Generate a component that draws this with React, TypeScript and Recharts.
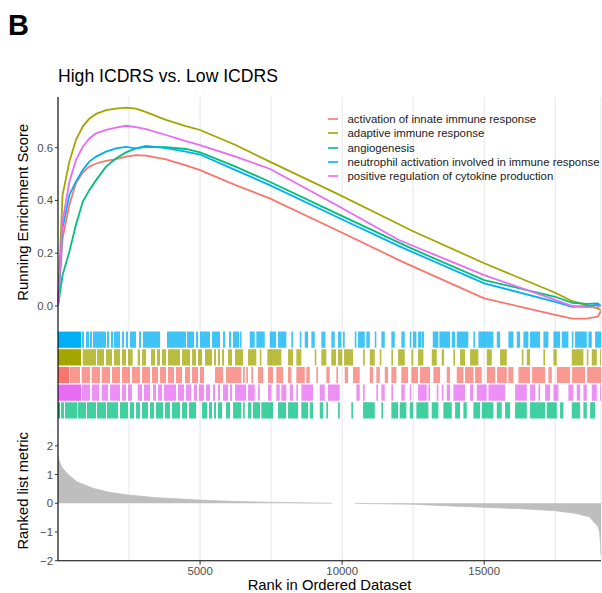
import { LineChart, Line, XAxis, YAxis, CartesianGrid, Legend, ComposedChart, Area } from "recharts";

const FONT = "'Liberation Sans', Arial, sans-serif";
const N_GENES = 19110;
const GRID_TICKS = [2500, 5000, 7500, 10000, 12500, 15000, 17500];
const MAJOR_TICKS = [5000, 10000, 15000];
const ES_TICKS = [0, 0.2, 0.4, 0.6];
const METRIC_TICKS = [-2, -1, 0, 1, 2];

// running enrichment score
const RANKS = [0, 160, 400, 630, 870, 1100, 1340, 1690, 2040, 2390, 2740, 3100, 3800, 4500, 5000, 6250, 7450, 9800, 12000, 12400, 15000, 17500, 18100, 18600, 19000, 19100];
const ES_INNATE = [0, 0.256, 0.383, 0.465, 0.506, 0.528, 0.54, 0.55, 0.557, 0.566, 0.572, 0.57, 0.556, 0.533, 0.515, 0.458, 0.408, 0.288, 0.174, 0.154, 0.029, -0.034, -0.048, -0.048, -0.04, -0.02];
const ES_ADAPTIVE = [0, 0.42, 0.547, 0.629, 0.68, 0.71, 0.728, 0.742, 0.748, 0.752, 0.748, 0.735, 0.705, 0.682, 0.667, 0.61, 0.547, 0.427, 0.31, 0.288, 0.162, 0.05, 0.018, 0.004, -0.01, -0.015];
const ES_ANGIO = [0, 0.117, 0.206, 0.307, 0.395, 0.439, 0.477, 0.528, 0.559, 0.582, 0.597, 0.603, 0.602, 0.595, 0.582, 0.528, 0.471, 0.351, 0.24, 0.22, 0.098, 0.035, 0.012, 0.008, 0.01, 0];
const ES_NEUTRO = [0, 0.294, 0.42, 0.471, 0.515, 0.547, 0.566, 0.585, 0.597, 0.603, 0.597, 0.607, 0.598, 0.585, 0.574, 0.515, 0.458, 0.338, 0.227, 0.208, 0.086, 0.016, -0.003, 0, 0.004, 0];
const ES_CYTOKINE = [0, 0.32, 0.47, 0.553, 0.603, 0.635, 0.654, 0.667, 0.676, 0.683, 0.678, 0.67, 0.648, 0.625, 0.61, 0.566, 0.52, 0.383, 0.25, 0.232, 0.117, 0.023, 0, -0.004, -0.005, 0.004];

// gene hit positions (rank ranges) for the rug
const HITS_NEUTRO: [number, number][] = [
  [0, 810], [845, 915], [986, 1091], [1126, 1197], [1232, 1690], [1725, 1795], [1866, 1936], [1971, 2182], [2253, 2323], [2394, 2464],
  [2534, 2746], [2851, 2922], [2992, 3590], [3837, 4506], [4541, 4787], [4858, 4928], [4998, 5350], [5421, 5702], [5808, 5878], [6019, 6090],
  [6160, 6371], [6406, 6459], [6748, 6924], [6980, 7276], [7452, 7674], [7744, 8036], [8212, 8272], [8508, 8564], [8684, 8800], [8916, 9036],
  [9268, 9409], [9620, 9740], [9856, 9972], [10032, 10092], [10444, 10500], [10560, 10796], [10852, 10972], [11148, 11204], [11380, 11500], [11732, 11852],
  [12084, 12204], [12380, 12436], [12496, 12612], [12672, 12788], [12802, 12883], [13190, 13387], [13422, 13798], [13858, 13974], [14034, 14442], [14619, 14678],
  [14795, 15323], [15442, 15558], [15851, 16027], [16146, 16262], [16379, 16555], [16614, 16966], [17083, 17259], [17435, 17670], [17730, 17963], [18082, 18139],
  [18198, 18610], [18666, 18786], [18902, 19110],
];
const HITS_ADAPTIVE: [number, number][] = [
  [0, 810], [869, 1338], [1373, 1619], [1690, 1901], [1971, 2182], [2253, 2394], [2464, 2629], [2805, 2886], [2957, 3098], [3274, 3414],
  [3485, 3590], [3661, 3802], [3872, 4294], [4365, 4646], [4717, 4858], [4928, 5069], [5174, 5421], [5491, 5562], [5632, 5702], [5773, 5843],
  [5984, 6125], [6230, 6512], [6688, 6980], [7100, 7156], [7367, 7860], [8096, 8272], [8388, 8564], [9036, 9092], [9268, 9444], [9620, 9786],
  [9856, 9997], [10067, 10384], [10736, 10796], [10972, 11148], [11324, 11380], [11732, 11792], [11968, 12204], [12436, 12496], [12672, 12859], [13154, 13330],
  [13506, 13587], [13915, 13974], [14150, 14326], [14502, 14795], [15090, 15266], [15558, 15794], [16322, 16379], [16498, 16614], [17083, 17142], [17435, 17554],
  [18082, 18491], [18610, 18666], [18786, 18962], [19078, 19110],
];
const HITS_INNATE: [number, number][] = [
  [0, 398], [422, 774], [834, 1126], [1186, 1478], [1538, 1830], [1901, 2182], [2253, 2534], [2605, 2886], [2957, 3238], [3309, 3520],
  [3590, 3802], [3872, 4083], [4154, 4365], [4470, 4646], [4717, 4928], [4998, 5139], [5526, 5808], [5914, 6452], [6512, 6572], [6628, 6688],
  [6804, 6864], [7040, 7216], [7392, 7568], [7684, 7920], [8096, 8212], [8388, 8684], [8740, 8860], [9092, 9152], [9444, 9564], [9796, 9856],
  [10092, 10208], [10384, 10620], [10972, 11088], [11204, 11324], [11500, 11616], [11732, 11908], [12084, 12320], [12436, 12672], [12742, 13094], [13211, 13446],
  [13682, 13798], [14034, 14267], [14326, 14619], [14678, 14914], [15090, 15382], [15453, 15794], [15851, 16027], [16203, 16614], [16685, 17142], [17259, 17378],
  [17554, 18022], [18093, 18550], [18621, 19110],
];
const HITS_CYTOKINE: [number, number][] = [
  [0, 810], [845, 1126], [1197, 1443], [1538, 1760], [1830, 2182], [2253, 2394], [2464, 2605], [2805, 2957], [3027, 3238], [3344, 3450],
  [3520, 3661], [3731, 4154], [4224, 4435], [4506, 4682], [4787, 4893], [4963, 5139], [5210, 5350], [5456, 5526], [5632, 5702], [5808, 5984],
  [6054, 6125], [6230, 6618], [6688, 6924], [7040, 7100], [7392, 7508], [7684, 7804], [7860, 8036], [8156, 8272], [8388, 8448], [8564, 8976],
  [9212, 9388], [9504, 9916], [10500, 10620], [10736, 10796], [11204, 11264], [11380, 11500], [11732, 11792], [12084, 12204], [12380, 12436], [12672, 12978],
  [13035, 13094], [13330, 13387], [13506, 13563], [13682, 13798], [13915, 14326], [14502, 14619], [14738, 15090], [15147, 15734], [16086, 16498], [16614, 16790],
  [16907, 16966], [17142, 17318], [17435, 17610], [17963, 18139], [18258, 18374], [18491, 18610], [18786, 18962], [19078, 19110],
];
const HITS_ANGIO: [number, number][] = [
  [0, 70], [106, 211], [246, 669], [704, 986], [1021, 1338], [1373, 1690], [1725, 2112], [2182, 2464], [2534, 2675], [2746, 2886],
  [2957, 3168], [3238, 3379], [3450, 3696], [3766, 3942], [4013, 4294], [4365, 4541], [4611, 4858], [5069, 5245], [5315, 5421], [5491, 5562],
  [5632, 5773], [5914, 6054], [6160, 6452], [6512, 6572], [6688, 6804], [6864, 7110], [7156, 7568], [7744, 8026], [8096, 8448], [8564, 8800],
  [8860, 8976], [9212, 9328], [9444, 9504], [9856, 9916], [10324, 10384], [10736, 11148], [11380, 11440], [11732, 11968], [12028, 12260], [12380, 12496],
  [12612, 13035], [13154, 13387], [13563, 13858], [13974, 14150], [14267, 14386], [14619, 14854], [14914, 15323], [15442, 15618], [15734, 15910], [16086, 16498],
  [16614, 17142], [17202, 17554], [17670, 17787], [18082, 18374], [18491, 18610], [18726, 18902],
];

// ranked list metric
const METRIC_RANKS = [0, 50, 130, 300, 660, 1240, 1800, 2460, 3500, 5000, 6200, 7460, 9000, 9650, 10000, 10450, 12500, 14000, 15000, 16500, 17500, 18200, 18700, 19000, 19060, 19100, 19110];
const METRIC_VALUES = [1.65, 1.45, 1.27, 1.05, 0.75, 0.52, 0.38, 0.29, 0.19, 0.11, 0.065, 0.035, 0.01, 0.002, null, -0.002, -0.035, -0.1, -0.14, -0.2, -0.26, -0.35, -0.47, -0.8, -1.0, -1.5, -1.8];

const SETS = [
  { key: "innate", name: "activation of innate immune response", color: "#F8766D", es: ES_INNATE, hits: HITS_INNATE, row: 2 },
  { key: "adaptive", name: "adaptive immune response", color: "#A3A500", es: ES_ADAPTIVE, hits: HITS_ADAPTIVE, row: 3 },
  { key: "angio", name: "angiogenesis", color: "#00BF7D", es: ES_ANGIO, hits: HITS_ANGIO, row: 0 },
  { key: "neutro", name: "neutrophil activation involved in immune response", color: "#00B0F6", es: ES_NEUTRO, hits: HITS_NEUTRO, row: 4 },
  { key: "cytokine", name: "positive regulation of cytokine production", color: "#E76BF3", es: ES_CYTOKINE, hits: HITS_CYTOKINE, row: 1 },
];

const esData = RANKS.map((rank, i) => {
  const d: Record<string, number> = { rank };
  SETS.forEach((s) => (d[s.key] = s.es[i]));
  return d;
});

// rug table: every hit edge, with a null just outside so each hit range closes.
// the leading dense block of each set gets its own key so it can be drawn solid.
const rugRanks = Array.from(
  new Set(SETS.flatMap((s) => s.hits.flatMap(([a, b]) => [a - 0.5, a, b, b + 0.5])))
)
  .filter((r) => r >= 0 && r <= N_GENES)
  .sort((x, y) => x - y);
const rugData = rugRanks.map((rank) => {
  const d: Record<string, number | null> = { rank };
  SETS.forEach((s) => {
    const [a0, b0] = s.hits[0];
    d[s.key + "Core"] = rank >= a0 && rank <= b0 ? s.row + 0.96 : null;
    d[s.key] = s.hits.slice(1).some(([a, b]) => rank >= a && rank <= b) ? s.row + 0.96 : null;
  });
  return d;
});

const metricData = METRIC_RANKS.map((rank, i) => ({ rank, metric: METRIC_VALUES[i] }));

const tickStyle = { fill: "#4D4D4D", fontSize: 11.4, fontFamily: FONT };
const minus = (v: number) => (v < 0 ? "\u2212" + Math.abs(v) : String(v));

const renderLegend = (props: any) => (
  <div style={{ fontFamily: FONT, fontSize: 11.4, color: "#1A1A1A" }}>
    {(props.payload || []).map((p: any) => (
      <div key={p.value} style={{ display: "flex", alignItems: "center", height: 14.25, whiteSpace: "nowrap" }}>
        <svg width={10} height={14} style={{ marginRight: 9.5 }}>
          <line x1={0} x2={10} y1={7} y2={7} stroke={p.color} strokeWidth={1.6} />
        </svg>
        <span>{p.value}</span>
      </div>
    ))}
  </div>
);

export default function App() {
  return (
    <div style={{ position: "absolute", left: 0, top: 0, width: 602, height: 593, background: "#fff", fontFamily: FONT }}>
      {/* running score */}
      <div style={{ position: "absolute", left: 0, top: 0 }}>
        <LineChart width={602} height={330} data={esData} margin={{ top: 97, right: 1, bottom: 0, left: 0 }}>
          <CartesianGrid horizontal={false} stroke="#E6E6E6" strokeWidth={1} />
          <XAxis dataKey="rank" type="number" domain={[0, N_GENES]} ticks={GRID_TICKS} hide />
          <YAxis
            type="number"
            domain={[-0.091, 0.792]}
            ticks={ES_TICKS}
            width={58}
            tickFormatter={(v: number) => v.toFixed(1)}
            axisLine={{ stroke: "#000", strokeWidth: 1.1 }}
            tickLine={{ stroke: "#333" }}
            tickSize={3}
            tickMargin={2}
            tick={tickStyle}
          />
          <Legend
            layout="vertical"
            align="center"
            verticalAlign="middle"
            content={renderLegend}
            wrapperStyle={{ position: "absolute", left: 328, top: 112, width: "auto", height: "auto" }}
          />
          {SETS.map((s) => (
            <Line key={s.key} type="linear" dataKey={s.key} name={s.name} stroke={s.color} strokeWidth={1.8} dot={false} isAnimationActive={false} />
          ))}
        </LineChart>
      </div>

      {/* gene hits rug */}
      <div style={{ position: "absolute", left: 0, top: 330 }}>
        <ComposedChart width={602} height={90} data={rugData} margin={{ top: 0, right: 1, bottom: 0, left: 0 }}>
          <CartesianGrid horizontal={false} stroke="#E6E6E6" strokeWidth={1} />
          <XAxis dataKey="rank" type="number" domain={[0, N_GENES]} ticks={GRID_TICKS} hide />
          {SETS.map((s) => (
            <Area
              key={s.key + "Core"}
              type="linear"
              dataKey={s.key + "Core"}
              baseValue={s.row + 0.04}
              fill={s.color}
              fillOpacity={1}
              stroke="none"
              connectNulls={false}
              legendType="none"
              isAnimationActive={false}
            />
          ))}
          {SETS.map((s) => (
            <Area
              key={s.key}
              type="linear"
              dataKey={s.key}
              baseValue={s.row + 0.04}
              fill={s.color}
              fillOpacity={0.75}
              stroke="none"
              connectNulls={false}
              legendType="none"
              isAnimationActive={false}
            />
          ))}
          <YAxis type="number" domain={[-0.05, 5.05]} width={58} tick={false} tickLine={false} axisLine={{ stroke: "#000", strokeWidth: 1.1 }} />
        </ComposedChart>
      </div>

      {/* ranked list metric */}
      <div style={{ position: "absolute", left: 0, top: 420 }}>
        <ComposedChart width={602} height={173} data={metricData} margin={{ top: 0, right: 1, bottom: 0, left: 0 }}>
          <CartesianGrid horizontal={false} xAxisId="grid" stroke="#E6E6E6" strokeWidth={1} />
          <XAxis xAxisId="grid" dataKey="rank" type="number" domain={[0, N_GENES]} ticks={GRID_TICKS} hide />
          <Area type="linear" dataKey="metric" baseValue={0} fill="#BEBEBE" fillOpacity={1} stroke="#BEBEBE" strokeWidth={0.8} isAnimationActive={false} />
          <XAxis
            dataKey="rank"
            type="number"
            domain={[0, N_GENES]}
            ticks={MAJOR_TICKS}
            height={32.3}
            axisLine={{ stroke: "#000", strokeWidth: 1.1 }}
            tickLine={{ stroke: "#333" }}
            tickSize={4}
            tickMargin={2}
            tick={tickStyle}
          />
          <YAxis
            type="number"
            domain={[-2, 2.9]}
            ticks={METRIC_TICKS}
            width={58}
            tickFormatter={minus}
            axisLine={{ stroke: "#000", strokeWidth: 1.1 }}
            tickLine={{ stroke: "#333" }}
            tickSize={3}
            tickMargin={2}
            tick={tickStyle}
          />
        </ComposedChart>
      </div>

      {/* titles */}
      <svg width={602} height={593} style={{ position: "absolute", left: 0, top: 0, pointerEvents: "none" }}>
        <text x={8} y={35} fontSize={29} fontWeight="bold" fill="#000" fontFamily={FONT}>B</text>
        <text x={58} y={81.7} fontSize={17.6} fill="#000" fontFamily={FONT}>High ICDRS vs. Low ICDRS</text>
        <text transform="translate(28,212.3) rotate(-90)" textAnchor="middle" fontSize={14.8} fill="#000" fontFamily={FONT}>Running Enrichment Score</text>
        <text transform="translate(28,490.8) rotate(-90)" textAnchor="middle" fontSize={14.8} fill="#000" fontFamily={FONT}>Ranked list metric</text>
        <text x={329.5} y={590} textAnchor="middle" fontSize={14.8} fill="#000" fontFamily={FONT}>Rank in Ordered Dataset</text>
      </svg>
    </div>
  );
}
